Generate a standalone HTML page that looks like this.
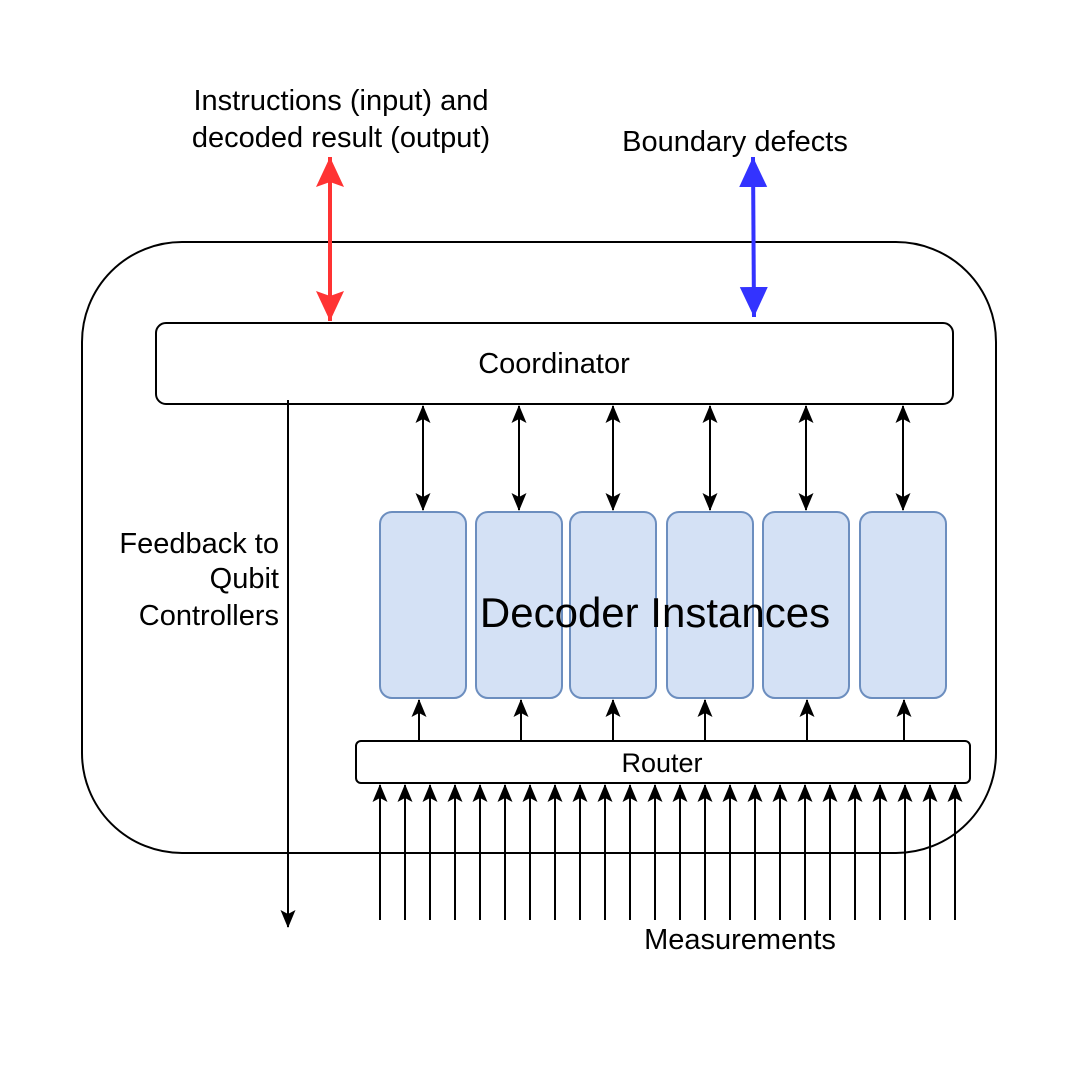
<!DOCTYPE html>
<html><head><meta charset="utf-8"><style>
html,body{margin:0;padding:0;background:#fff;}
</style></head><body>
<svg width="1079" height="1060" xmlns="http://www.w3.org/2000/svg" font-family="Liberation Sans, Arial, sans-serif">
<defs>
<marker id="abk" markerWidth="18" markerHeight="16" refX="17" refY="8" orient="auto-start-reverse" markerUnits="userSpaceOnUse" viewBox="0 0 18 16"><path d="M0,0.5 L18,8 L0,15.5 L4,8 z" fill="#000"/></marker>
<marker id="ar" markerWidth="32" markerHeight="32" refX="30" refY="14" orient="auto-start-reverse" markerUnits="userSpaceOnUse" viewBox="0 0 32 28"><path d="M0,0 L30,14 L0,28 L5,14 z" fill="#ff3333"/></marker>
<marker id="abl" markerWidth="32" markerHeight="32" refX="30" refY="14" orient="auto-start-reverse" markerUnits="userSpaceOnUse" viewBox="0 0 32 28"><path d="M0,0 L30,14 L0,28 z" fill="#3333ff"/></marker>
</defs>
<rect x="82" y="242" width="914" height="611" rx="100" fill="none" stroke="#000" stroke-width="2"/>
<rect x="156" y="323" width="797" height="81" rx="10" fill="#fff" stroke="#000" stroke-width="2"/>
<text x="554" y="373" font-size="29" text-anchor="middle">Coordinator</text>
<g fill="#d4e1f5" stroke="#6c8ebf" stroke-width="2">
<rect x="380" y="512" width="86" height="186" rx="12"/>
<rect x="476" y="512" width="86" height="186" rx="12"/>
<rect x="570" y="512" width="86" height="186" rx="12"/>
<rect x="667" y="512" width="86" height="186" rx="12"/>
<rect x="763" y="512" width="86" height="186" rx="12"/>
<rect x="860" y="512" width="86" height="186" rx="12"/>
</g>
<text x="655" y="627" font-size="42" text-anchor="middle">Decoder Instances</text>
<g stroke="#000" stroke-width="2" marker-start="url(#abk)" marker-end="url(#abk)">
<line x1="423" y1="406" x2="423" y2="510"/>
<line x1="519" y1="406" x2="519" y2="510"/>
<line x1="613" y1="406" x2="613" y2="510"/>
<line x1="710" y1="406" x2="710" y2="510"/>
<line x1="806" y1="406" x2="806" y2="510"/>
<line x1="903" y1="406" x2="903" y2="510"/>
</g>
<rect x="356" y="741" width="614" height="42" rx="5" fill="#fff" stroke="#000" stroke-width="2"/>
<text x="662" y="772" font-size="27" text-anchor="middle">Router</text>
<g stroke="#000" stroke-width="2" marker-end="url(#abk)">
<line x1="419" y1="741" x2="419" y2="700"/>
<line x1="521" y1="741" x2="521" y2="700"/>
<line x1="613" y1="741" x2="613" y2="700"/>
<line x1="705" y1="741" x2="705" y2="700"/>
<line x1="807" y1="741" x2="807" y2="700"/>
<line x1="904" y1="741" x2="904" y2="700"/>
</g>
<g stroke="#000" stroke-width="2" marker-end="url(#abk)">
<line x1="380" y1="920" x2="380" y2="785"/><line x1="405" y1="920" x2="405" y2="785"/><line x1="430" y1="920" x2="430" y2="785"/><line x1="455" y1="920" x2="455" y2="785"/><line x1="480" y1="920" x2="480" y2="785"/><line x1="505" y1="920" x2="505" y2="785"/><line x1="530" y1="920" x2="530" y2="785"/><line x1="555" y1="920" x2="555" y2="785"/><line x1="580" y1="920" x2="580" y2="785"/><line x1="605" y1="920" x2="605" y2="785"/><line x1="630" y1="920" x2="630" y2="785"/><line x1="655" y1="920" x2="655" y2="785"/><line x1="680" y1="920" x2="680" y2="785"/><line x1="705" y1="920" x2="705" y2="785"/><line x1="730" y1="920" x2="730" y2="785"/><line x1="755" y1="920" x2="755" y2="785"/><line x1="780" y1="920" x2="780" y2="785"/><line x1="805" y1="920" x2="805" y2="785"/><line x1="830" y1="920" x2="830" y2="785"/><line x1="855" y1="920" x2="855" y2="785"/><line x1="880" y1="920" x2="880" y2="785"/><line x1="905" y1="920" x2="905" y2="785"/><line x1="930" y1="920" x2="930" y2="785"/><line x1="955" y1="920" x2="955" y2="785"/>
</g>
<line x1="288" y1="400" x2="288" y2="927" stroke="#000" stroke-width="2" marker-end="url(#abk)"/>
<line x1="330" y1="157" x2="330" y2="321" stroke="#ff3333" stroke-width="4" marker-start="url(#ar)" marker-end="url(#ar)"/>
<line x1="753" y1="157" x2="754" y2="317" stroke="#3333ff" stroke-width="4" marker-start="url(#abl)" marker-end="url(#abl)"/>
<g font-size="29">
<text x="341" y="110" text-anchor="middle">Instructions (input) and</text>
<text x="341" y="147" text-anchor="middle">decoded result (output)</text>
<text x="735" y="151" text-anchor="middle">Boundary defects</text>
<text x="279" y="553" text-anchor="end">Feedback to</text>
<text x="279" y="588" text-anchor="end">Qubit</text>
<text x="279" y="625" text-anchor="end">Controllers</text>
<text x="740" y="949" text-anchor="middle">Measurements</text>
</g>
</svg>
</body></html>
